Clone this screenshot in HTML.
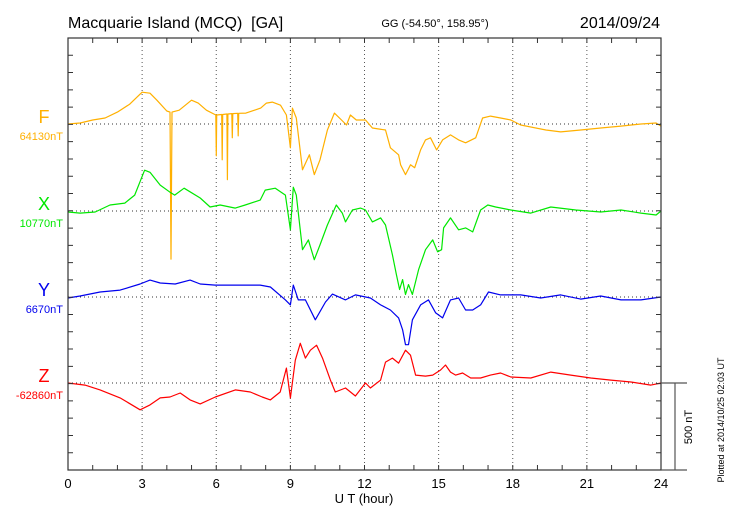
<!DOCTYPE html>
<html><head><meta charset="utf-8"><style>
body{margin:0;background:#fff;}
svg{display:block;font-family:"Liberation Sans",sans-serif;}
</style></head><body>
<svg id="c" width="730" height="520" viewBox="0 0 730 520">
<text x="68" y="28" font-size="16">Macquarie Island (MCQ)&#160; [GA]</text>
<text x="435" y="27" font-size="11" text-anchor="middle">GG (-54.50°, 158.95°)</text>
<text x="660" y="28" font-size="16" text-anchor="end">2014/09/24</text>
<text x="364" y="503" font-size="13" text-anchor="middle">U T (hour)</text>
<text transform="translate(692,427) rotate(-90)" font-size="11" text-anchor="middle">500 nT</text>
<text transform="translate(724,420) rotate(-90)" font-size="9" text-anchor="middle">Plotted at 2014/10/25 02:03 UT</text>
<g id="grid"></g><g id="series"></g><g id="axes"></g>
</svg>
<script>
const xTicks=[0,3,6,9,12,15,18,21,24];
const seriesNames=["F","X","Y","Z"];
const seriesLabels=["64130nT","10770nT","6670nT","-62860nT"];
const seriesColors=["#ffb000","#00e800","#0000ee","#ff0000"];
const fT=[0,0.49,1.0,1.5,2.0,2.5,3.0,3.32,3.6,4.0,4.13,4.17,4.21,4.5,5.0,5.27,5.6,5.98,6.0,6.02,6.22,6.24,6.26,6.43,6.45,6.47,6.63,6.65,6.67,6.87,6.89,6.91,7.2,7.8,8.03,8.27,8.6,8.84,9.0,9.08,9.24,9.49,9.77,9.97,10.2,10.5,10.78,11.07,11.27,11.43,11.67,12.04,12.32,12.85,13.05,13.38,13.46,13.66,13.86,14.03,14.27,14.47,14.67,14.92,15.16,15.48,15.81,16.09,16.5,16.78,17.1,17.51,17.92,18.32,19.34,19.94,20.75,21.56,22.38,23.19,23.8,24];
const fV=[0,6,23,35,69,115,184,178,138,75,69,-782,69,80,138,121,80,52,-184,52,55,-207,55,58,-322,58,60,-80,60,62,-69,62,63,92,121,127,109,52,-138,92,35,-265,-178,-293,-207,-35,63,23,-6,52,23,23,-23,-35,-138,-178,-236,-293,-236,-253,-150,-92,-80,-150,-92,-63,-92,-109,-80,35,46,35,23,-6,-35,-46,-35,-23,-12,0,6,-12];
const xT=[0,0.49,1.1,1.7,2.3,2.7,3.1,3.32,3.73,4.13,4.32,4.7,5.35,5.75,6.16,6.77,7.17,7.78,7.98,8.39,8.8,9.0,9.12,9.24,9.49,9.73,9.97,10.2,10.5,10.86,11.1,11.23,11.51,11.84,12.04,12.32,12.65,12.85,13.13,13.29,13.42,13.54,13.66,13.78,13.94,14.19,14.47,14.76,14.96,15.12,15.2,15.48,15.81,16.09,16.38,16.7,16.99,17.31,17.92,18.73,19.54,20.55,21.56,22.38,23.19,23.8,24];
const xV=[-6,-12,-6,35,46,92,236,224,150,109,92,132,75,23,35,17,35,63,121,132,92,-109,138,92,-224,-167,-282,-196,-81,35,-12,-63,6,17,6,-63,-40,-81,-253,-368,-454,-397,-483,-426,-483,-339,-224,-167,-236,-224,-98,-40,-109,-98,-121,6,35,23,6,-12,23,6,-6,6,-12,-23,0];
const yT=[0,0.49,1.3,2.11,2.92,3.32,3.73,4.34,4.94,5.35,5.96,6.57,7.78,8.19,8.8,9.0,9.12,9.32,9.61,10.01,10.42,10.7,11.23,11.63,12.24,12.65,13.05,13.38,13.54,13.66,13.78,13.94,14.27,14.59,14.88,15.16,15.48,15.81,16.09,16.38,16.7,17.02,17.51,18.32,19.13,19.94,20.75,21.56,22.38,23.19,24];
const yV=[-6,6,29,40,75,98,81,75,98,75,69,69,69,58,-17,-46,69,-17,-17,-132,-29,17,-17,12,-6,-46,-75,-121,-190,-276,-276,-132,-46,-17,-92,-121,-17,-6,-75,-75,-46,29,12,12,-6,12,-12,6,-17,-17,0];
const zT=[0,0.69,1.3,2.11,2.92,3.32,3.73,4.13,4.54,4.94,5.35,5.96,6.77,7.38,7.86,8.19,8.59,8.84,9.0,9.2,9.4,9.61,9.81,10.06,10.3,10.62,10.82,11.23,11.63,12.04,12.24,12.65,12.85,13.13,13.38,13.66,13.86,14.07,14.47,14.76,15.08,15.28,15.48,15.69,15.97,16.3,16.7,17.1,17.51,17.92,18.73,19.54,20.35,21.16,21.97,22.78,23.59,24];
const zV=[0,-12,-40,-86,-155,-127,-86,-81,-58,-98,-121,-81,-40,-52,-81,-98,-52,86,-86,132,230,144,190,219,144,17,-52,-29,-75,0,-29,17,121,144,115,190,161,46,40,46,75,104,63,46,58,29,29,46,58,35,29,63,46,29,17,6,-12,0];
const L=68,R=661,T=38,B=470,baseY=[124,211,297,383];
const pxPerNT=(B-T)/2500;
const sx=t=>L+t*(R-L)/24;
const sy=(i,v)=>baseY[i]-v*pxPerNT;
const NS="http://www.w3.org/2000/svg";
function mk(tag,attrs,parent){const e=document.createElementNS(NS,tag);for(const k in attrs)e.setAttribute(k,attrs[k]);parent.appendChild(e);return e;}
const grid=document.getElementById('grid'),ser=document.getElementById('series'),ax=document.getElementById('axes');
xTicks.forEach(h=>{
 if(h>0&&h<24){const g=mk('line',{x1:sx(h),x2:sx(h),y1:T,y2:B,stroke:'#555','stroke-width':1,'stroke-dasharray':'1,3'},grid);
 
 }
 const tl=mk('text',{x:sx(h),y:B+18,'font-size':13,'text-anchor':'middle'},ax);tl.textContent=h;
 
 
});
baseY.forEach((y,i)=>{
 const b=mk('line',{x1:L,x2:R,y1:y,y2:y,stroke:'#333','stroke-width':1,'stroke-dasharray':'1,3'},grid);
 
 
});
const data=[[fT,fV],[xT,xV],[yT,yV],[zT,zV]];
data.forEach((d,i)=>{
 let p='';d[0].forEach((t,j)=>{p+=(j?'L':'M')+sx(t).toFixed(1)+','+sy(i,d[1][j]).toFixed(1);});
 const path=mk('path',{d:p,fill:'none',stroke:seriesColors[i],'stroke-width':1.2,'stroke-linejoin':'round'},ser);
 
 
 const n=mk('text',{x:44,y:baseY[i]-1,'font-size':18,'text-anchor':'middle',fill:seriesColors[i]},ax);n.textContent=seriesNames[i];
 
 
 const v=mk('text',{x:63,y:baseY[i]+16,'font-size':11,'text-anchor':'end',fill:seriesColors[i]},ax);v.textContent=seriesLabels[i];
 
 
});
const frame=mk('rect',{x:L,y:T,width:R-L,height:B-T,fill:'none',stroke:'#333','stroke-width':1.2},ax);


let tk='';
for(let h=1;h<24;h++){tk+='M'+sx(h)+','+B+'v-5M'+sx(h)+','+T+'v5';}
for(let k=1;k<25;k++){const y=B-k*100*pxPerNT;tk+='M'+L+','+y+'h5M'+R+','+y+'h-5';}
const ticks=mk('path',{d:tk,stroke:'#333','stroke-width':1,fill:'none'},ax);


const sb=mk('path',{d:'M'+R+','+baseY[3]+'H687M675,'+baseY[3]+'V'+B+'M'+R+','+B+'H687',stroke:'#555','stroke-width':1.2,fill:'none'},ax);


</script>
</body></html>
